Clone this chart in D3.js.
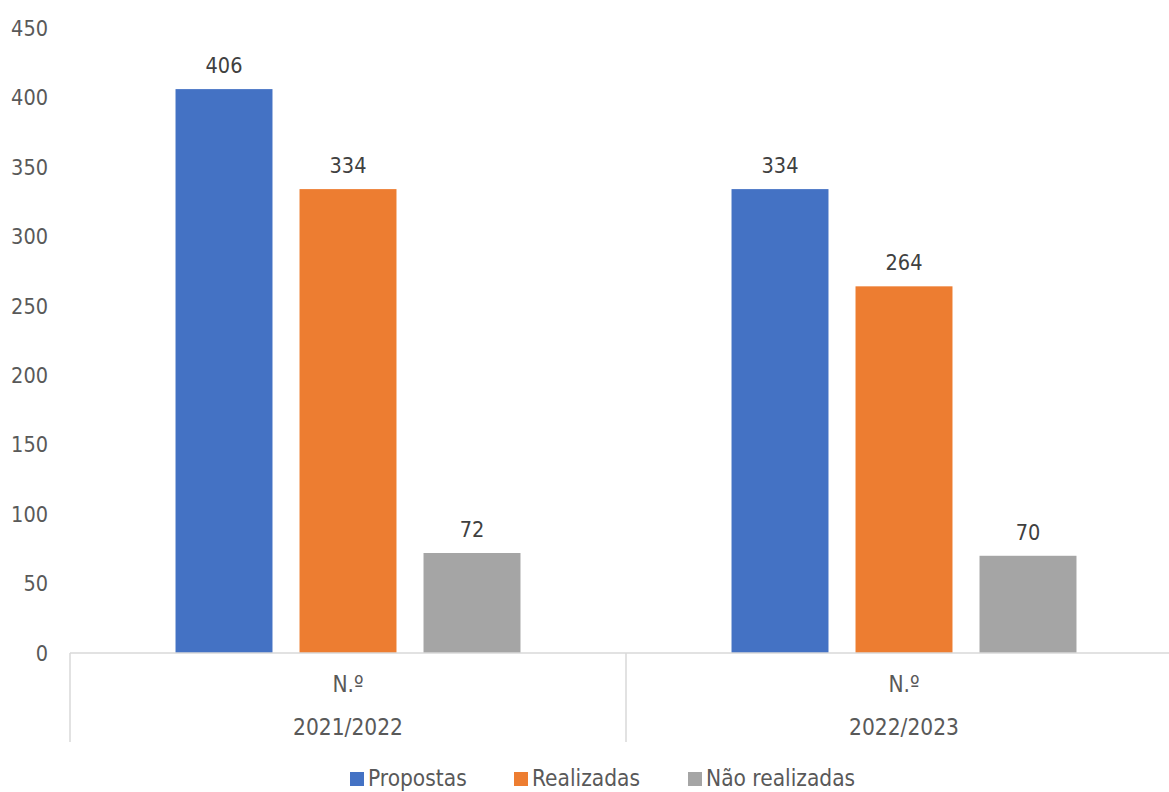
<!DOCTYPE html>
<html>
<head>
<meta charset="utf-8">
<script src="https://cdn.jsdelivr.net/npm/d3@7"></script>
<style>
  html, body { margin: 0; padding: 0; background: #ffffff; }
  svg text { font-family: "DejaVu Sans Condensed", "DejaVu Sans", sans-serif; fill: #595959; }
</style>
</head>
<body>
<svg id="chart" width="1169" height="792"></svg>
<script>
// Academic years and the counts for each series
const years = ["2021/2022", "2022/2023"];
const subLabel = "N.º";
const seriesNames = ["Propostas", "Realizadas", "Não realizadas"];
const propostas = [406, 334];
const realizadas = [334, 264];
const naoRealizadas = [72, 70];
const yTicks = [0, 50, 100, 150, 200, 250, 300, 350, 400, 450];
const colors = ["#4472c4", "#ed7d31", "#a5a5a5"];

const seriesValues = [propostas, realizadas, naoRealizadas];

const svg = d3.select("#chart");
const plotLeft = 70, plotRight = 1182, plotTop = 28, plotBase = 653;

const x0 = d3.scaleBand().domain(years).range([plotLeft, plotRight]).paddingInner(0).paddingOuter(0);
const x1 = d3.scaleBand().domain(seriesNames).range([0, x0.bandwidth()])
  .paddingInner(0.218).paddingOuter(0.851);
const y = d3.scaleLinear().domain([0, 450]).range([plotBase, plotTop]);

// y-axis labels (no line, no ticks)
svg.append("g")
  .selectAll("text")
  .data(yTicks)
  .join("text")
  .attr("x", 48)
  .attr("y", d => y(d))
  .attr("dy", "0.36em")
  .attr("text-anchor", "end")
  .attr("font-size", 21.5)
  .text(d => d);

// bars grouped by academic year
const groups = svg.append("g")
  .selectAll("g")
  .data(years)
  .join("g")
  .attr("transform", d => `translate(${x0(d)},0)`);

const rowsFor = (d, i) => seriesNames.map((s, k) => ({ s, v: seriesValues[k][i], k }));

groups.selectAll("rect")
  .data(rowsFor)
  .join("rect")
  .attr("x", d => x1(d.s))
  .attr("width", x1.bandwidth())
  .attr("y", d => y(d.v))
  .attr("height", d => plotBase - y(d.v))
  .attr("fill", d => colors[d.k]);

groups.selectAll("text.val")
  .data(rowsFor)
  .join("text")
  .attr("class", "val")
  .attr("x", d => x1(d.s) + x1.bandwidth() / 2)
  .attr("y", d => y(d.v) - 16)
  .attr("text-anchor", "middle")
  .attr("font-size", 21.5)
  .style("fill", "#404040")
  .text(d => d.v);

// category axis: baseline and separators
const axisColor = "#d9d9d9";
svg.append("line")
  .attr("x1", plotLeft).attr("x2", 1169)
  .attr("y1", plotBase).attr("y2", plotBase)
  .attr("stroke", axisColor).attr("stroke-width", 1.5);

svg.append("g")
  .selectAll("line")
  .data([plotLeft, x0(years[1])])
  .join("line")
  .attr("x1", d => d).attr("x2", d => d)
  .attr("y1", plotBase).attr("y2", 742)
  .attr("stroke", axisColor).attr("stroke-width", 1.5);

svg.append("g")
  .selectAll("text")
  .data(years)
  .join("text")
  .attr("x", d => x0(d) + x0.bandwidth() / 2)
  .attr("y", 684)
  .attr("dy", "0.36em")
  .attr("text-anchor", "middle")
  .attr("font-size", 22.5)
  .text(subLabel);

svg.append("g")
  .selectAll("text")
  .data(years)
  .join("text")
  .attr("x", d => x0(d) + x0.bandwidth() / 2)
  .attr("y", 727)
  .attr("dy", "0.36em")
  .attr("text-anchor", "middle")
  .attr("font-size", 22.5)
  .text(d => d);

// legend
const legendX = [350, 514, 688];
const legend = svg.append("g")
  .selectAll("g")
  .data(seriesNames)
  .join("g")
  .attr("transform", (d, i) => `translate(${legendX[i]},777)`);
legend.append("rect")
  .attr("x", 0).attr("y", -5)
  .attr("width", 14).attr("height", 14)
  .attr("fill", (d, i) => colors[i]);
legend.append("text")
  .attr("x", 18).attr("y", 1)
  .attr("dy", "0.36em")
  .attr("font-size", 22.5)
  .text(d => d);
</script>
</body>
</html>
